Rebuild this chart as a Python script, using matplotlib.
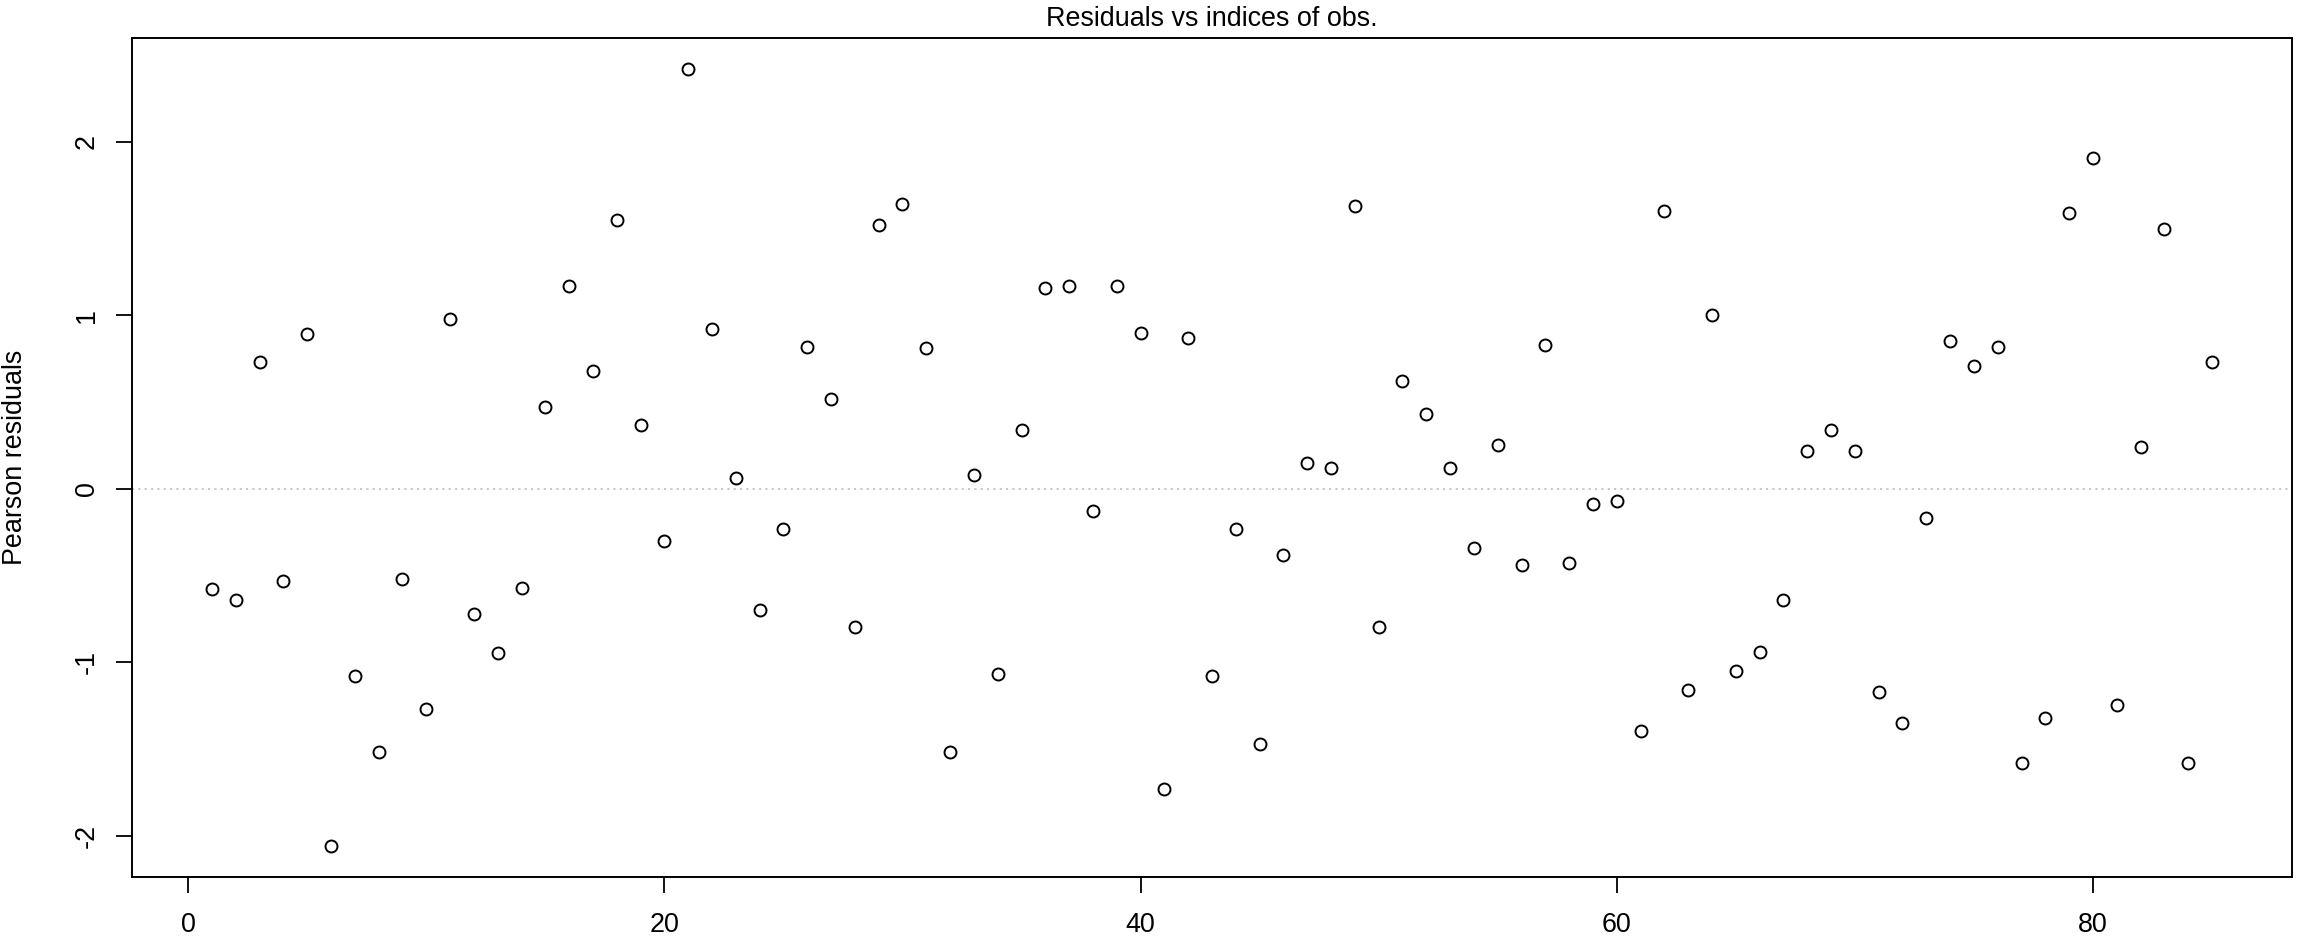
import matplotlib
matplotlib.use("Agg")
import matplotlib.pyplot as plt
import numpy as np

OBS_INDEX = list(range(1, 86))
PEARSON_RESID = [
    -0.58, -0.64, 0.73, -0.53, 0.89, -2.06, -1.08, -1.52, -0.52, -1.27,
    0.98, -0.72, -0.95, -0.57, 0.47, 1.17, 0.68, 1.55, 0.37, -0.30,
    2.42, 0.92, 0.06, -0.70, -0.23, 0.82, 0.52, -0.80, 1.52, 1.64,
    0.81, -1.52, 0.08, -1.07, 0.34, 1.16, 1.17, -0.13, 1.17, 0.90,
    -1.73, 0.87, -1.08, -0.23, -1.47, -0.38, 0.15, 0.12, 1.63, -0.80,
    0.62, 0.43, 0.12, -0.34, 0.25, -0.44, 0.83, -0.43, -0.09, -0.07,
    -1.40, 1.60, -1.16, 1.00, -1.05, -0.94, -0.64, 0.22, 0.34, 0.22,
    -1.17, -1.35, -0.17, 0.85, 0.71, 0.82, -1.58, -1.32, 1.59, 1.91,
    -1.25, 0.24, 1.50, -1.58, 0.73,
]
X_TICKS = [0, 20, 40, 60, 80]
Y_TICKS = [-2, -1, 0, 1, 2]

TITLE = "Residuals vs indices of obs."
Y_LABEL = "Pearson residuals"

DPI = 100
FONT_PT = 19.4

plt.rcParams["font.family"] = ["Liberation Sans", "DejaVu Sans"]
plt.rcParams["font.size"] = FONT_PT

fig = plt.figure(figsize=(23.0, 9.46), dpi=DPI)
W, H = 2300, 946
left, right, top, bottom = 132, 2292, 38, 877
ax = fig.add_axes([left / W, (H - bottom) / H, (right - left) / W, (bottom - top) / H])

x = np.asarray(OBS_INDEX, dtype=float)
y = np.asarray(PEARSON_RESID, dtype=float)

# R-style axis extent: data range + 4% each side
def r_range(v):
    lo, hi = float(np.min(v)), float(np.max(v))
    d = (hi - lo) * 0.04
    return lo - d, hi + d

ax.set_xlim(*r_range(x))
ax.set_ylim(*r_range(y))

ax.axhline(0, color="#BEBEBE", lw=1.2, dashes=(1.3, 2.5), zorder=1)
ax.plot(x, y, linestyle="none", marker="o", ms=8.6, mfc="none",
        mec="black", mew=1.4, zorder=3)

ax.set_xticks(X_TICKS)
ax.set_yticks(Y_TICKS)
ax.set_xticklabels([str(t) for t in X_TICKS])
ax.set_yticklabels([str(t) for t in Y_TICKS], rotation=90, va="center")

ax.tick_params(axis="both", direction="out", length=11.7, width=1.3,
               colors="black", labelsize=FONT_PT)
ax.tick_params(axis="x", pad=13.4)
ax.tick_params(axis="y", pad=11.5)

for spine in ax.spines.values():
    spine.set_linewidth(1.4)
    spine.set_color("black")

ax.set_title(TITLE, fontsize=FONT_PT, pad=9)
ax.set_ylabel(Y_LABEL, fontsize=FONT_PT)
ax.yaxis.set_label_coords((28 - left) / (right - left), 0.5)

fig.savefig("out.png", dpi=DPI, facecolor="white")
